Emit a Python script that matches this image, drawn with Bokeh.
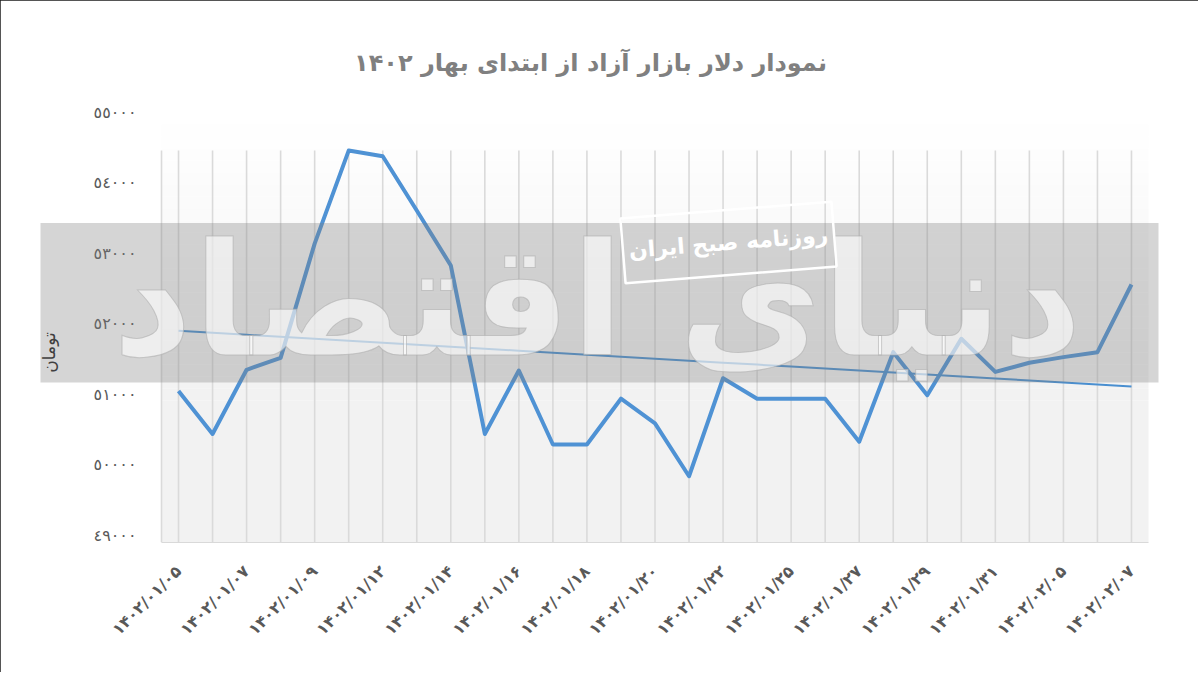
import numpy as np
from bokeh.plotting import figure
from bokeh.models import FixedTicker, BoxAnnotation, Label, Range1d
from bokeh.embed import file_html
from bokeh.resources import INLINE

# ---------------- data ----------------
title_text = "نمودار دلار بازار آزاد از ابتدای بهار ۱۴۰۲"
y_axis_title = "تومان"
watermark_main = "دنیای اقتصاد"
watermark_sub = "روزنامه صبح ایران"

# labels shown under every other day
tick_labels = ["۱۴۰۲/۰۱/۰۵", "۱۴۰۲/۰۱/۰۷", "۱۴۰۲/۰۱/۰۹", "۱۴۰۲/۰۱/۱۲",
               "۱۴۰۲/۰۱/۱۴", "۱۴۰۲/۰۱/۱۶", "۱۴۰۲/۰۱/۱۸", "۱۴۰۲/۰۱/۲۰",
               "۱۴۰۲/۰۱/۲۲", "۱۴۰۲/۰۱/۲۵", "۱۴۰۲/۰۱/۲۷", "۱۴۰۲/۰۱/۲۹",
               "۱۴۰۲/۰۱/۳۱", "۱۴۰۲/۰۲/۰۵", "۱۴۰۲/۰۲/۰۷"]

# free-market dollar price (toman), one value per trading day
price = [51050, 50440, 51350, 51520, 53140, 54460, 54380, 53610, 52830,
         50440, 51340, 50290, 50290, 50940, 50590, 49840, 51230, 50940,
         50940, 50940, 50330, 51600, 50990, 51790, 51320, 51450, 51530,
         51600, 52560]

y_ticks = [49000, 50000, 51000, 52000, 53000, 54000, 55000]
y_tick_labels = ["٤٩٠٠٠", "٥٠٠٠٠", "٥١٠٠٠", "٥٢٠٠٠", "٥٣٠٠٠", "٥٤٠٠٠", "٥٥٠٠٠"]

# ---------------- layout ----------------
W, H = 1198, 672
# plot area (page px) and its data extent
PL, PR, PT, PB = 161, 1148, 112, 542
PX0, PX1 = -0.5, len(price) - 0.5
PY0, PY1 = 48900, 55000
# frame (page px), larger than plot area so the watermark/title can sit in it
FL, FR, FT, FB = 36, 1170, 20, 542

def dx(px):
    return PX0 + (px - PL) / (PR - PL) * (PX1 - PX0)

def dy(py):
    return PY1 - (py - PT) / (PB - PT) * (PY1 - PY0)

p = figure(width=W, height=H, x_range=Range1d(dx(FL), dx(FR)), y_range=Range1d(dy(FB), dy(FT)),
           output_backend="svg", toolbar_location=None,
           min_border_left=FL, min_border_right=W - FR,
           min_border_top=FT, min_border_bottom=H - FB)
p.background_fill_color = "white"
p.border_fill_color = "white"
p.outline_line_color = None
p.styles = {"outline": "2px solid #1c1c1c", "outline-offset": "-2px"}
p.xgrid.grid_line_color = None
p.ygrid.grid_line_color = None

# plot-area fill: soft vertical gradient (white at top -> light gray)
n = 24
g_top, g_bot = PY1, dy(400)
for k in range(n):
    t0 = g_top - (g_top - g_bot) * k / n
    t1 = g_top - (g_top - g_bot) * (k + 1) / n
    c = int(round(255 - (255 - 242) * (k + 0.5) / n))
    p.add_layout(BoxAnnotation(left=PX0, right=PX1, top=t0, bottom=t1, fill_color=(c, c, c),
                               fill_alpha=1.0, line_color=None, level="image"))
p.add_layout(BoxAnnotation(left=PX0, right=PX1, top=g_bot, bottom=PY0, fill_color="#f2f2f2",
                           fill_alpha=1.0, line_color=None, level="image"))

# vertical grid lines at every day (+ left edge of plot area)
gx = [PX0] + list(range(len(price)))
p.segment(x0=gx, y0=[PY0] * len(gx), x1=gx, y1=[dy(150)] * len(gx),
          line_color="#dadada", line_width=1.6, level="underlay")

x = np.arange(len(price))
p.line(x, price, line_color="#4f92d4", line_width=4, line_join="round")
coef = np.polyfit(x, price, 1)
p.line(x, np.polyval(coef, x), line_color="#4a8fd0", line_width=2)

# axes
p.xaxis.bounds = (PX0, PX1)
p.xaxis.ticker = FixedTicker(ticks=list(range(0, len(price), 2)))
p.xaxis.major_label_overrides = {i * 2: lab for i, lab in enumerate(tick_labels)}
p.xaxis.major_label_orientation = np.pi / 4
p.xaxis.major_label_text_font = "DejaVu Sans"
p.xaxis.major_label_text_font_size = "16px"
p.xaxis.major_label_text_font_style = "bold"
p.xaxis.major_label_text_color = "#595959"
p.xaxis.major_label_standoff = 20
p.xaxis.major_tick_line_color = None
p.xaxis.minor_tick_line_color = None
p.xaxis.axis_line_color = "#d9d9d9"

p.yaxis.ticker = FixedTicker(ticks=y_ticks)
p.yaxis.major_label_overrides = dict(zip(y_ticks, y_tick_labels))
p.yaxis.major_label_text_font = "DejaVu Sans"
p.yaxis.major_label_text_font_size = "16px"
p.yaxis.major_label_text_color = "#595959"
p.yaxis.major_label_standoff = -(136 - FL)
p.yaxis.major_tick_line_color = None
p.yaxis.major_tick_out = 0
p.yaxis.major_tick_in = 0
p.yaxis.minor_tick_line_color = None
p.yaxis.axis_line_color = None

# title
p.add_layout(Label(x=dx(590), y=dy(62), text=title_text, text_font="DejaVu Sans",
                   text_font_size="24px", text_font_style="bold", text_color="#808080",
                   text_align="center", text_baseline="middle"))
# y-axis title
p.add_layout(Label(x=dx(48), y=dy(352), text=y_axis_title, angle=np.pi / 2,
                   text_font="DejaVu Sans", text_font_size="17px", text_color="#404040",
                   text_align="center", text_baseline="middle", level="overlay"))

# watermark
p.add_layout(BoxAnnotation(left=dx(40), right=dx(1158), top=dy(222.5), bottom=dy(382),
                           fill_color="#7f7f7f", fill_alpha=0.33, line_color=None,
                           level="annotation"))
p.add_layout(Label(x=dx(597), y=dy(300), text=watermark_main, text_font="DejaVu Sans",
                   text_font_size="156px", text_font_style="bold", text_color="white",
                   text_alpha=0.6, text_outline_color="#adadad",
                   text_align="center", text_baseline="middle", level="overlay"))
p.add_layout(Label(x=dx(728), y=dy(242), text=watermark_sub, angle=0.08,
                   text_font="DejaVu Sans", text_font_size="22px", text_font_style="bold",
                   text_color="white", border_line_color="white", border_line_width=2.5,
                   padding=(6, 20), text_align="center", text_baseline="middle",
                   level="overlay"))

open("out.html", "w").write(file_html(p, INLINE))
